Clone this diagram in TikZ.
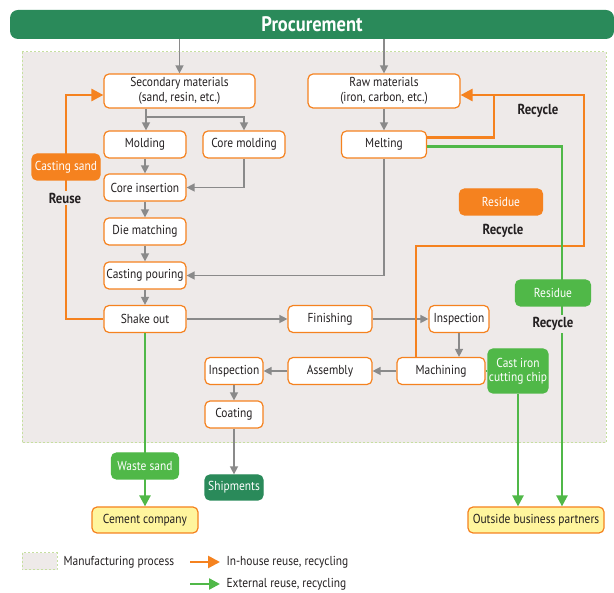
\documentclass[tikz,border=0pt]{standalone}
\usepackage{fontspec}
\setmainfont{PT Sans}[FakeStretch=0.88]
\usepackage{tikz}
\usetikzlibrary{calc,arrows.meta,positioning}

\definecolor{procgreen}{HTML}{2A8A5A}
\definecolor{boxorange}{HTML}{F5821F}
\definecolor{extgreen}{HTML}{50B848}
\definecolor{boxyellow}{HTML}{FFF59D}
\definecolor{flowgray}{HTML}{8A8A8A}
\definecolor{areabg}{HTML}{EEEAE9}
\definecolor{areaedge}{HTML}{C6DFA0}
\definecolor{txtdark}{HTML}{231F20}

\tikzset{
  stepbox/.style={draw=boxorange, line width=1.2pt, fill=white, rounded corners=5pt,
    minimum height=27pt, inner sep=1pt, align=center, text=txtdark, font=\fontsize{13}{15}\selectfont},
  orangebox/.style={stepbox, fill=boxorange, text=white},
  greenbox/.style={stepbox, draw=extgreen, fill=extgreen, text=white},
  shipbox/.style={stepbox, draw=procgreen, fill=procgreen, text=white},
  yellowbox/.style={stepbox, fill=boxyellow},
  tag/.style={font=\bfseries\fontsize{14.5}{14.5}\selectfont, text=txtdark, fill=areabg, inner sep=2pt},
  flow/.style={draw=flowgray, line width=1.4pt, -{Triangle[width=8pt,length=8pt]}},
  reuse/.style={draw=boxorange, line width=2.6pt, -{Triangle[width=12pt,length=12pt]}},
  reuseline/.style={draw=boxorange, line width=2.6pt},
  external/.style={draw=extgreen, line width=2.4pt, -{Triangle[width=11pt,length=11pt]}},
  externalline/.style={draw=extgreen, line width=2.4pt},
  area/.style={fill=areabg, draw=areaedge, line width=1pt, dash pattern=on 2pt off 2pt}
}

\begin{document}
\begin{tikzpicture}[x=1pt,y=-1pt]
    \useasboundingbox (0,0) rectangle (614,593);

    % draw manufacturing area
    \draw[area] (22,52) rectangle (606,443);

    % draw procurement bar
    \node[fill=procgreen, rounded corners=8pt, minimum width=604pt, minimum height=29pt,
      text=white, font=\bfseries\fontsize{21}{21}\selectfont] (proc) at (312,24.5) {Procurement};

    % draw process nodes
    \node[stepbox, minimum width=151pt, minimum height=34pt] (sec) at (179.5,91) {Secondary materials\\(sand, resin, etc.)};
    \node[stepbox, minimum width=152pt, minimum height=34pt] (raw) at (384,91) {Raw materials\\(iron, carbon, etc.)};
    \node[stepbox, minimum width=82pt] (mold) at (145,144.5) {Molding};
    \node[stepbox, minimum width=82pt] (coremold) at (244,144.5) {Core molding};
    \node[stepbox, minimum width=85pt] (melt) at (384,144.5) {Melting};
    \node[stepbox, minimum width=82pt] (coreins) at (145,187.5) {Core insertion};
    \node[stepbox, minimum width=82pt] (die) at (145,231.5) {Die matching};
    \node[stepbox, minimum width=82pt] (pour) at (145,275.5) {Casting pouring};
    \node[stepbox, minimum width=82pt] (shake) at (145,319) {Shake out};
    \node[stepbox, minimum width=84pt] (finish) at (330,319) {Finishing};
    \node[stepbox, minimum width=60pt] (inspA) at (459,319) {Inspection};
    \node[stepbox, minimum width=88pt] (mach) at (441,371) {Machining};
    \node[stepbox, minimum width=84pt] (assem) at (330,371) {Assembly};
    \node[stepbox, minimum width=58pt] (inspB) at (234,371) {Inspection};
    \node[stepbox, minimum width=58pt] (coat) at (234,414.5) {Coating};
    \node[shipbox, minimum width=58pt, minimum height=25pt] (ship) at (234,487.5) {Shipments};
    \node[yellowbox, minimum width=106pt, minimum height=26pt] (cement) at (145,520) {Cement company};
    \node[yellowbox, minimum width=136pt, minimum height=26pt] (partner) at (536,520) {Outside business partners};

    % draw gray flow
    \coordinate (split) at (146,117);
    \draw[flow] (sec |- proc.south) -- (sec.north);
    \draw[flow] (raw |- proc.south) -- (raw.north);
    \draw[flow] (sec.south -| split) -- (split |- mold.north);
    \draw[flow] (split) -| (coremold.north);
    \draw[flow] (mold) -- (coreins);
    \draw[flow] (coremold.south) |- (coreins.east);
    \draw[flow] (coreins) -- (die);
    \draw[flow] (die) -- (pour);
    \draw[flow] (pour) -- (shake);
    \draw[flow] (raw) -- (melt);
    \draw[flow] (melt.south) |- (pour.east);
    \draw[flow] (shake) -- (finish);
    \draw[flow] (finish) -- (inspA);
    \draw[flow] (inspA.south) -- (inspA.south |- mach.north);
    \draw[flow] (mach) -- (assem);
    \draw[flow] (assem) -- (inspB);
    \draw[flow] (inspB) -- (coat);
    \draw[flow] (coat) -- (ship);

    % draw in-house reuse, recycling
    \coordinate (secIn) at (66,95);
    \coordinate (rawIn) at (494,95);
    \coordinate (loopR) at (584,246);
    \draw[reuse] (shake.west) -| (secIn) -- (secIn -| sec.west);
    \draw[reuse] ($(melt.east)+(0,-7)$) -| (rawIn) -- (rawIn -| raw.east);
    \draw[reuseline] ($(mach.north)+(-25,0)$) |- (loopR) |- (rawIn);
    \node[orangebox, minimum width=68pt, minimum height=26pt] (sand) at (66,167) {Casting sand};
    \node[tag] (reuseTag) at (65,198) {Reuse};
    \node[orangebox, minimum width=83pt, minimum height=26pt] (resA) at (501,202) {Residue};
    \node[tag] (recA) at (538,111) {Recycle};
    \node[tag] (recB) at (503,231) {Recycle};

    % draw external reuse, recycling
    \coordinate (extR) at (562,146);
    \node[greenbox, minimum width=60pt, minimum height=44pt, inner sep=0pt,
      font=\fontsize{13}{14}\selectfont] (chip) at (518,371) {Cast iron\\cutting chip};
    \draw[external] ($(melt.east)+(0,2)$) -| (partner.north -| extR);
    \draw[externalline] (mach.east) -- (chip.west);
    \draw[external] (chip.south) -- (chip.south |- partner.north);
    \draw[external] (shake.south) -- (shake.south |- cement.north);
    \node[greenbox, minimum width=67pt, minimum height=26pt] (waste) at (145,466) {Waste sand};
    \node[greenbox, minimum width=75pt, minimum height=26pt] (resB) at (553,293) {Residue};
    \node[tag] (recC) at (553,324) {Recycle};

    % draw legend
    \draw[area] (22,553) rectangle (57,570);
    \node[anchor=west, text=txtdark, font=\fontsize{13}{13}\selectfont] (legA) at (60,562) {Manufacturing process};
    \coordinate (legOa) at (190,562);
    \coordinate (legOb) at (220,562);
    \coordinate (legGa) at (190,584);
    \coordinate (legGb) at (220,584);
    \draw[reuse] (legOa) -- (legOb);
    \draw[external] (legGa) -- (legGb);
    \node[anchor=west, text=txtdark, font=\fontsize{13}{13}\selectfont] (legB) at (223,562) {In-house reuse, recycling};
    \node[anchor=west, text=txtdark, font=\fontsize{13}{13}\selectfont] (legC) at (223,584) {External reuse, recycling};

  \end{tikzpicture}
\end{document}
